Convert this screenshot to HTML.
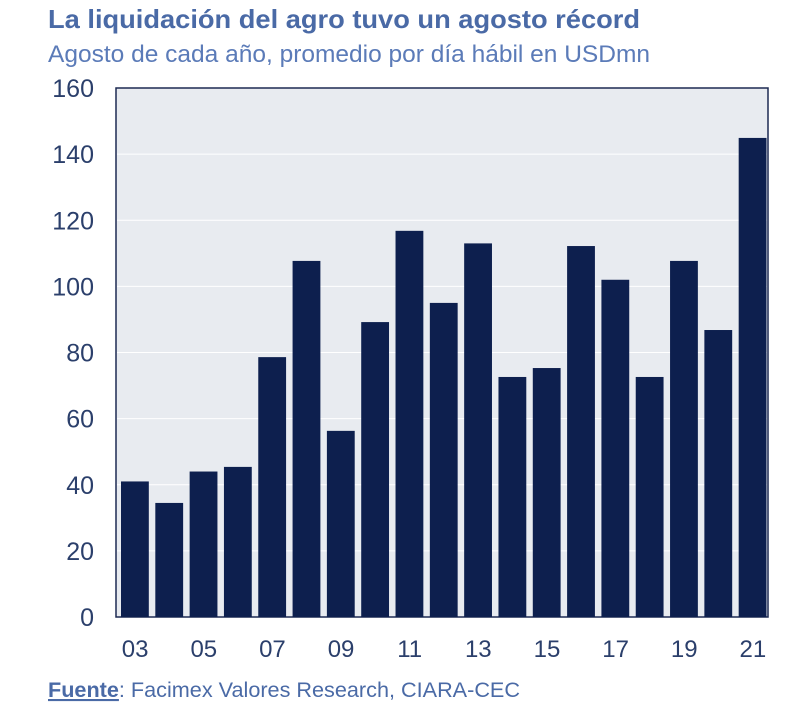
<!DOCTYPE html>
<html><head><meta charset="utf-8"><style>
body{margin:0;background:#fff;width:800px;height:707px;overflow:hidden;font-family:"Liberation Sans",Arial,sans-serif}
</style></head><body>
<svg width="800" height="707">
<text x="48" y="28" font-size="26" font-weight="bold" fill="#4a6aa6" textLength="592" lengthAdjust="spacingAndGlyphs">La liquidación del agro tuvo un agosto récord</text>
<text x="48" y="62" font-size="24" fill="#5b7bb8" textLength="602" lengthAdjust="spacingAndGlyphs">Agosto de cada año, promedio por día hábil en USDmn</text>
<rect x="116" y="88" width="652" height="529" fill="#e8ebf0" stroke="#1d2a52" stroke-width="1.5"/>
<g id="grid"></g><g id="bars"></g><g id="yt"></g><g id="xt"></g>
<text x="48" y="697" font-size="21" fill="#4a6aa6" textLength="472" lengthAdjust="spacingAndGlyphs"><tspan font-weight="bold" text-decoration="underline">Fuente</tspan>: Facimex Valores Research, CIARA-CEC</text>
</svg>
<script>
const years=["03","04","05","06","07","08","09","10","11","12","13","14","15","16","17","18","19","20","21"];
const values=[41,34.5,44,45.4,78.6,107.7,56.3,89.2,116.8,95,113,72.6,75.3,112.2,102,72.6,107.7,86.8,144.9];
const yTicks=[0,20,40,60,80,100,120,140,160];
const NS="http://www.w3.org/2000/svg";
const L=116,R=768,T=88,B=617,max=160;
const y=v=>B-(v/max)*(B-T);
const step=(R-L)/years.length;
const x=i=>L+i*step;
function mk(t,a,p){const e=document.createElementNS(NS,t);for(const k in a)e.setAttribute(k,a[k]);document.getElementById(p).appendChild(e);return e;}
yTicks.forEach(v=>{
 if(v>0&&v<max){const g=mk('line',{x1:L+1,x2:R-1,y1:y(v),y2:y(v),stroke:'#ffffff','stroke-width':1},'grid');
 
 }
 const t=mk('text',{x:94,y:y(v)+9,'font-size':25,fill:'#2b3f6b','text-anchor':'end'},'yt');t.textContent=v;
 
 
});
values.forEach((v,i)=>{
 const r=mk('rect',{x:x(i)+5,width:step-6.5,y:y(v),height:B-y(v),fill:'#0d1f4e'},'bars');
 
 
 if(i%2===0){const t=mk('text',{x:x(i)+step/2+2,y:657,'font-size':24,fill:'#2b3f6b','text-anchor':'middle'},'xt');t.textContent=years[i];
 
 }
});
</script>
</body></html>
